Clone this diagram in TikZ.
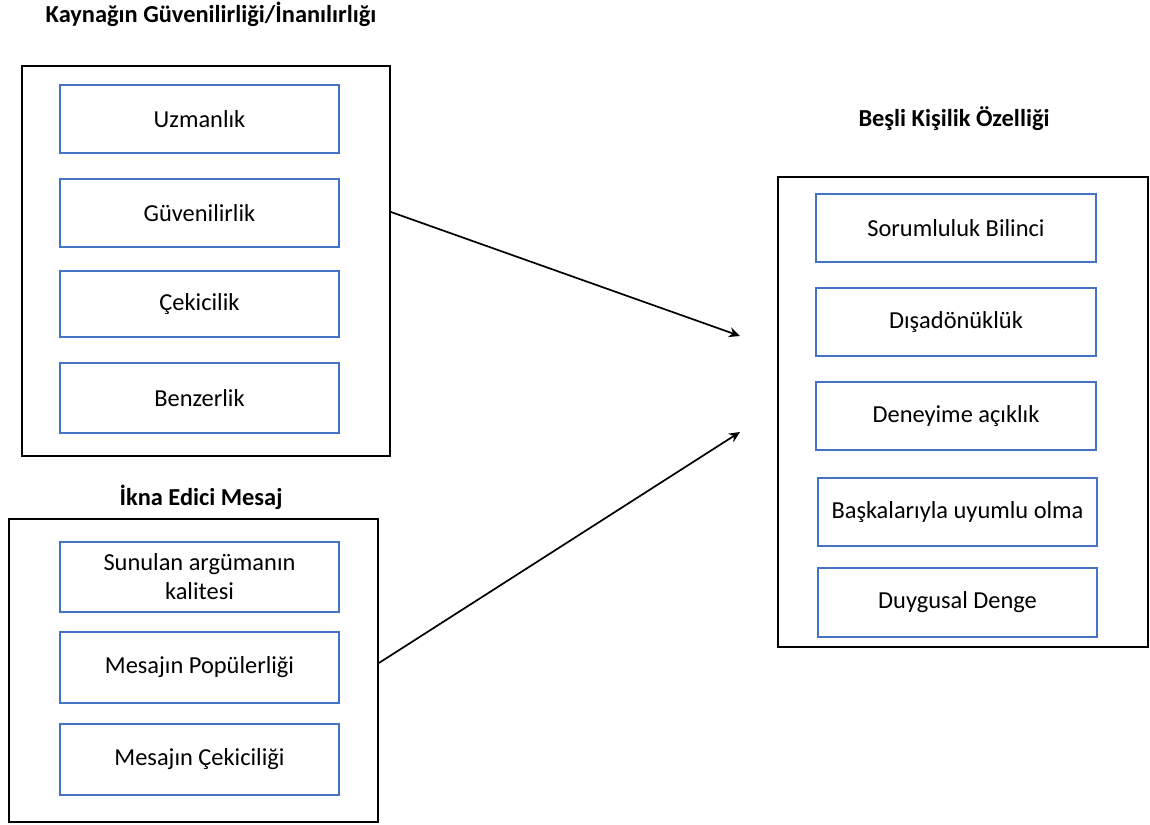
\documentclass[tikz,border=0pt]{standalone}
\usepackage{fontspec}
\setmainfont{Carlito}
\usetikzlibrary{arrows.meta}
\definecolor{boxblue}{RGB}{68,114,196}
\begin{document}
\begin{tikzpicture}[x=1bp,y=-1bp,
  outerbox/.style={draw=black,line width=1.8bp,inner sep=0pt},
  innerbox/.style={draw=boxblue,line width=1.4bp,inner sep=0pt,align=center,
    font=\fontsize{24.5}{29}\selectfont},
  titletext/.style={anchor=base,font=\fontsize{24.5}{29}\selectfont\bfseries},
  conn/.style={draw=black,line width=1.7bp,-{Stealth[length=11bp,width=10bp]}}]
\useasboundingbox (0,0) rectangle (1150,825);
% titles
\node[titletext] (t1) at (211,22) {Kaynağın Güvenilirliği/İnanılırlığı};
\node[titletext] (t2) at (201,505) {İkna Edici Mesaj};
\node[titletext] (t3) at (954,126) {Beşli Kişilik Özelliği};
% outer boxes
\node[outerbox,minimum width=368bp,minimum height=390bp] (b1) at (206,261) {};
\node[outerbox,minimum width=369bp,minimum height=303bp] (b2) at (193.5,670.5) {};
\node[outerbox,minimum width=370bp,minimum height=470bp] (b3) at (963,412) {};
% left top inner
\node[innerbox,minimum width=279bp,minimum height=68bp] (u1) at (199.5,119) {Uzmanlık};
\node[innerbox,minimum width=279bp,minimum height=68bp] (u2) at (199.5,213) {Güvenilirlik};
\node[innerbox,minimum width=279bp,minimum height=66bp] (u3) at (199.5,304) {Çekicilik};
\node[innerbox,minimum width=279bp,minimum height=70bp] (u4) at (199.5,398) {Benzerlik};
% left bottom inner
\node[innerbox,minimum width=279bp,minimum height=70bp] (m1) at (199.5,577) {Sunulan argümanın\\kalitesi};
\node[innerbox,minimum width=279bp,minimum height=71bp] (m2) at (199.5,667.5) {Mesajın Popülerliği};
\node[innerbox,minimum width=279bp,minimum height=71bp] (m3) at (199.5,759.5) {Mesajın Çekiciliği};
% right inner
\node[innerbox,minimum width=280bp,minimum height=68bp] (k1) at (956,228) {Sorumluluk Bilinci};
\node[innerbox,minimum width=280bp,minimum height=68bp] (k2) at (956,322) {Dışadönüklük};
\node[innerbox,minimum width=280bp,minimum height=68bp] (k3) at (956,416) {Deneyime açıklık};
\node[innerbox,minimum width=279bp,minimum height=68bp] (k4) at (957.5,512) {Başkalarıyla uyumlu olma};
\node[innerbox,minimum width=279bp,minimum height=69bp] (k5) at (957.5,602.5) {Duygusal Denge};
% arrows
\coordinate (e1) at (740,336);
\coordinate (e2) at (740,432);
\draw[conn] ([yshift=49bp]b1.east) -- (e1);
\draw[conn] ([yshift=7.5bp]b2.east) -- (e2);
\end{tikzpicture}
\end{document}
